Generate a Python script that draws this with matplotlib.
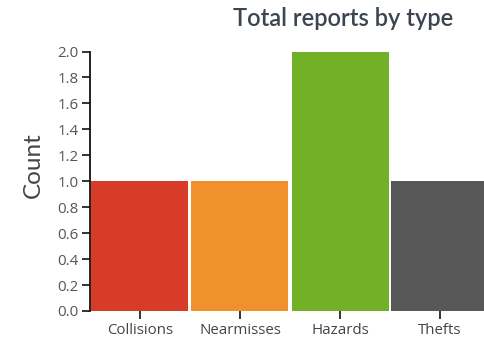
import matplotlib
matplotlib.use("Agg")
import matplotlib.pyplot as plt

categories = ["Collisions", "Nearmisses", "Hazards", "Thefts"]
counts = [1, 1, 2, 1]
colors = ["#d63c27", "#f0912e", "#72b027", "#575757"]
yticks = [0.0, 0.2, 0.4, 0.6, 0.8, 1.0, 1.2, 1.4, 1.6, 1.8, 2.0]

plt.rcParams['font.family'] = ['Open Sans', 'DejaVu Sans']

W, H = 485, 341
fig = plt.figure(figsize=(W/100, H/100), dpi=100)
left, right, top, bottom = 90, 490, 51.5, 311
ax = fig.add_axes([left/W, (H-bottom)/H, (right-left)/W, (bottom-top)/H])

x = list(range(len(categories)))
ax.bar(x, counts, width=0.97, color=colors, edgecolor='none')
ax.set_xlim(-0.5, len(categories) - 0.5)
ax.set_ylim(0, 2.0)
ax.set_yticks(yticks)
ax.set_yticklabels([f"{v:.1f}" for v in yticks])
ax.set_xticks(x)
ax.set_xticklabels(categories)

for s in ['top', 'right', 'bottom']:
    ax.spines[s].set_visible(False)
ax.spines['left'].set_linewidth(1.3)
ax.spines['left'].set_color('#111111')
ax.tick_params(axis='y', length=6, width=1.2, colors='#111111', labelcolor='#555555', labelsize=10.8, pad=2)
ax.tick_params(axis='x', length=6, width=1.2, colors='#111111', labelcolor='#444444', labelsize=10.8, pad=3)

ax.set_ylabel("Count", fontsize=17.5, color='#444444', family=['Lato', 'DejaVu Sans'])
ax.yaxis.set_label_coords(-0.115, 0.563)

fig.text(343/W, 1 - 19/H, "Total reports by type", ha='center', va='center',
         fontsize=17, color='#3b4552', fontweight='semibold', family=['Lato', 'DejaVu Sans'])

fig.savefig("out.png", dpi=100)
